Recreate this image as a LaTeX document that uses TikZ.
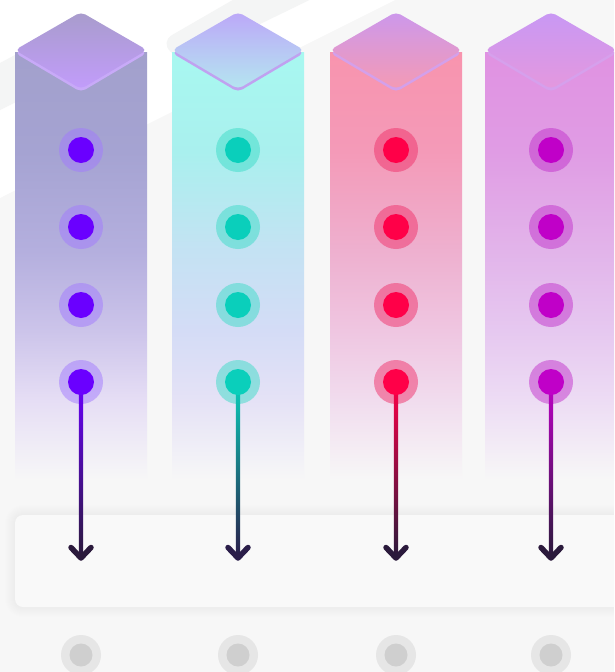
\documentclass[tikz,border=0pt]{standalone}
\usetikzlibrary{calc}

% background
\definecolor{bgc}{HTML}{F7F7F7}
\definecolor{bandc}{HTML}{F4F5F5}
\definecolor{panelc}{HTML}{F9F9F9}
\definecolor{greyout}{HTML}{E6E6E6}
\definecolor{greyin}{HTML}{CFCFCF}

% column bodies (top to bottom stops)
\definecolor{bA1}{HTML}{A2A0CC}\definecolor{bB1}{HTML}{A5A3D2}\definecolor{bC1}{HTML}{B4AFDE}\definecolor{bD1}{HTML}{CCC4EA}\definecolor{bE1}{HTML}{E6DEF5}
\definecolor{bA2}{HTML}{A8F8F0}\definecolor{bB2}{HTML}{A9F0EE}\definecolor{bC2}{HTML}{C4E2F3}\definecolor{bD2}{HTML}{D4DCF6}\definecolor{bE2}{HTML}{E5E2F6}
\definecolor{bA3}{HTML}{F894AE}\definecolor{bB3}{HTML}{F49AB8}\definecolor{bC3}{HTML}{EEB0CF}\definecolor{bD3}{HTML}{EFC6E1}\definecolor{bE3}{HTML}{F1DCEE}
\definecolor{bA4}{HTML}{E092E2}\definecolor{bB4}{HTML}{E09CE4}\definecolor{bC4}{HTML}{E2B4EA}\definecolor{bD4}{HTML}{E6C8F0}\definecolor{bE4}{HTML}{EDDCF4}

% roofs
\definecolor{roofT1}{HTML}{A89CCC}\definecolor{roofB1}{HTML}{C29CFB}\definecolor{rim1}{HTML}{C8AAF8}
\definecolor{roofT2}{HTML}{BCA8F8}\definecolor{roofB2}{HTML}{B4E6F0}\definecolor{rim2}{HTML}{C0A2F0}
\definecolor{roofT3}{HTML}{CC98EC}\definecolor{roofB3}{HTML}{F49AB4}\definecolor{rim3}{HTML}{D4A0EA}
\definecolor{roofT4}{HTML}{C898F4}\definecolor{roofB4}{HTML}{E498DE}\definecolor{rim4}{HTML}{D6A0EC}

% dots
\definecolor{dot1}{HTML}{6A00FF}\definecolor{halo1}{HTML}{A27AFE}
\definecolor{dot2}{HTML}{0ACFBB}\definecolor{halo2}{HTML}{3CDCC8}
\definecolor{dot3}{HTML}{FF0048}\definecolor{halo3}{HTML}{F0306A}
\definecolor{dot4}{HTML}{C000C8}\definecolor{halo4}{HTML}{C232CC}

% arrow shafts
\definecolor{sA1}{HTML}{6A00FF}\definecolor{sB1}{HTML}{4A12A8}\definecolor{sC1}{HTML}{2B1A3C}
\definecolor{sA2}{HTML}{0ACFBB}\definecolor{sB2}{HTML}{1A8A90}\definecolor{sC2}{HTML}{2B1E4A}
\definecolor{sA3}{HTML}{FF0048}\definecolor{sB3}{HTML}{9A1848}\definecolor{sC3}{HTML}{2B1A3C}
\definecolor{sA4}{HTML}{C000C8}\definecolor{sB4}{HTML}{861090}\definecolor{sC4}{HTML}{2B1A3C}

% vertical fades of the column bodies (box maps to 25bp..75bp)
\pgfdeclareverticalshading{colbody1}{100bp}{color(0bp)=(bgc); color(25bp)=(bgc); color(34.3bp)=(bE1); color(42.44bp)=(bD1); color(51.74bp)=(bC1); color(63.37bp)=(bB1); color(75bp)=(bA1); color(100bp)=(bA1)}
\pgfdeclareverticalshading{colbody2}{100bp}{color(0bp)=(bgc); color(25bp)=(bgc); color(34.3bp)=(bE2); color(42.44bp)=(bD2); color(51.74bp)=(bC2); color(63.37bp)=(bB2); color(75bp)=(bA2); color(100bp)=(bA2)}
\pgfdeclareverticalshading{colbody3}{100bp}{color(0bp)=(bgc); color(25bp)=(bgc); color(34.3bp)=(bE3); color(42.44bp)=(bD3); color(51.74bp)=(bC3); color(63.37bp)=(bB3); color(75bp)=(bA3); color(100bp)=(bA3)}
\pgfdeclareverticalshading{colbody4}{100bp}{color(0bp)=(bgc); color(25bp)=(bgc); color(34.3bp)=(bE4); color(42.44bp)=(bD4); color(51.74bp)=(bC4); color(63.37bp)=(bB4); color(75bp)=(bA4); color(100bp)=(bA4)}

\begin{document}
\begin{tikzpicture}[x=1pt,y=-1pt,
  haloring/.style={circle,inner sep=0pt,minimum size=44pt,fill opacity=0.5},
  dotcore/.style={circle,inner sep=0pt,minimum size=26pt},
  greyring/.style={circle,inner sep=0pt,minimum size=40pt,fill=greyout},
  greycore/.style={circle,inner sep=0pt,minimum size=23pt,fill=greyin},
  chev/.style={line width=5.5pt,line cap=round,line join=round},
  roof/.style={rounded corners=5pt}]
\useasboundingbox (0,0) rectangle (614,672);
\begin{scope}
\clip (0,0) rectangle (614,672);

% backdrop with soft diagonal bands
\fill[bgc] (0,0) rectangle (614,672);
\fill[white] (0,0) -- (395,0) -- (0,198) -- cycle;
\fill[bandc] (0,63) -- (81,20) -- (81,70) -- (0,110) -- cycle;
\fill[bandc, rounded corners=14pt] (160,42) -- (250,-10) -- (330,-10) -- (182,62) -- cycle;

% columns with their roofs
\foreach \i/\cx in {1/81,2/238,3/396,4/551} {
  \shade[shading=colbody\i] (\cx-66,52) rectangle (\cx+66,480);
  \fill[rim\i, roof] (\cx,15) -- (\cx+66,53) -- (\cx,92) -- (\cx-66,53) -- cycle;
  \shade[top color=roofT\i, bottom color=roofB\i, roof] (\cx,12) -- (\cx+66,50) -- (\cx,89) -- (\cx-66,50) -- cycle;
}

% panel with a soft shadow
\foreach \s in {1,...,10} {
  \fill[black, opacity=0.0035, rounded corners={8pt+\s pt}] (15-\s,515-\s) rectangle (640+\s,607+\s);
}
\fill[panelc, rounded corners=8pt] (15,515) rectangle (640,607);

% dots, arrows and grey markers
\foreach \i/\cx in {1/81,2/238,3/396,4/551} {
  \foreach \j/\y in {1/150,2/227,3/305,4/382} {
    \node[haloring, fill=halo\i] (h\i\j) at (\cx,\y) {};
  }
  \coordinate (a\i) at (\cx,558);
  \shade[top color=sA\i, middle color=sB\i, bottom color=sC\i]
    ($(h\i4.center)+(-2.2,0)$) rectangle ($(a\i)+(2.2,-2)$);
  \foreach \j in {1,...,4} {
    \node[dotcore, fill=dot\i] (d\i\j) at (h\i\j) {};
  }
  \draw[chev, draw=sC\i] ($(a\i)+(-10,-10.5)$) -- (a\i) -- ($(a\i)+(10,-10.5)$);
  \node[greyring] (g\i) at (\cx,655) {};
  \node[greycore] (gc\i) at (g\i) {};
}
\end{scope}
\end{tikzpicture}
\end{document}
